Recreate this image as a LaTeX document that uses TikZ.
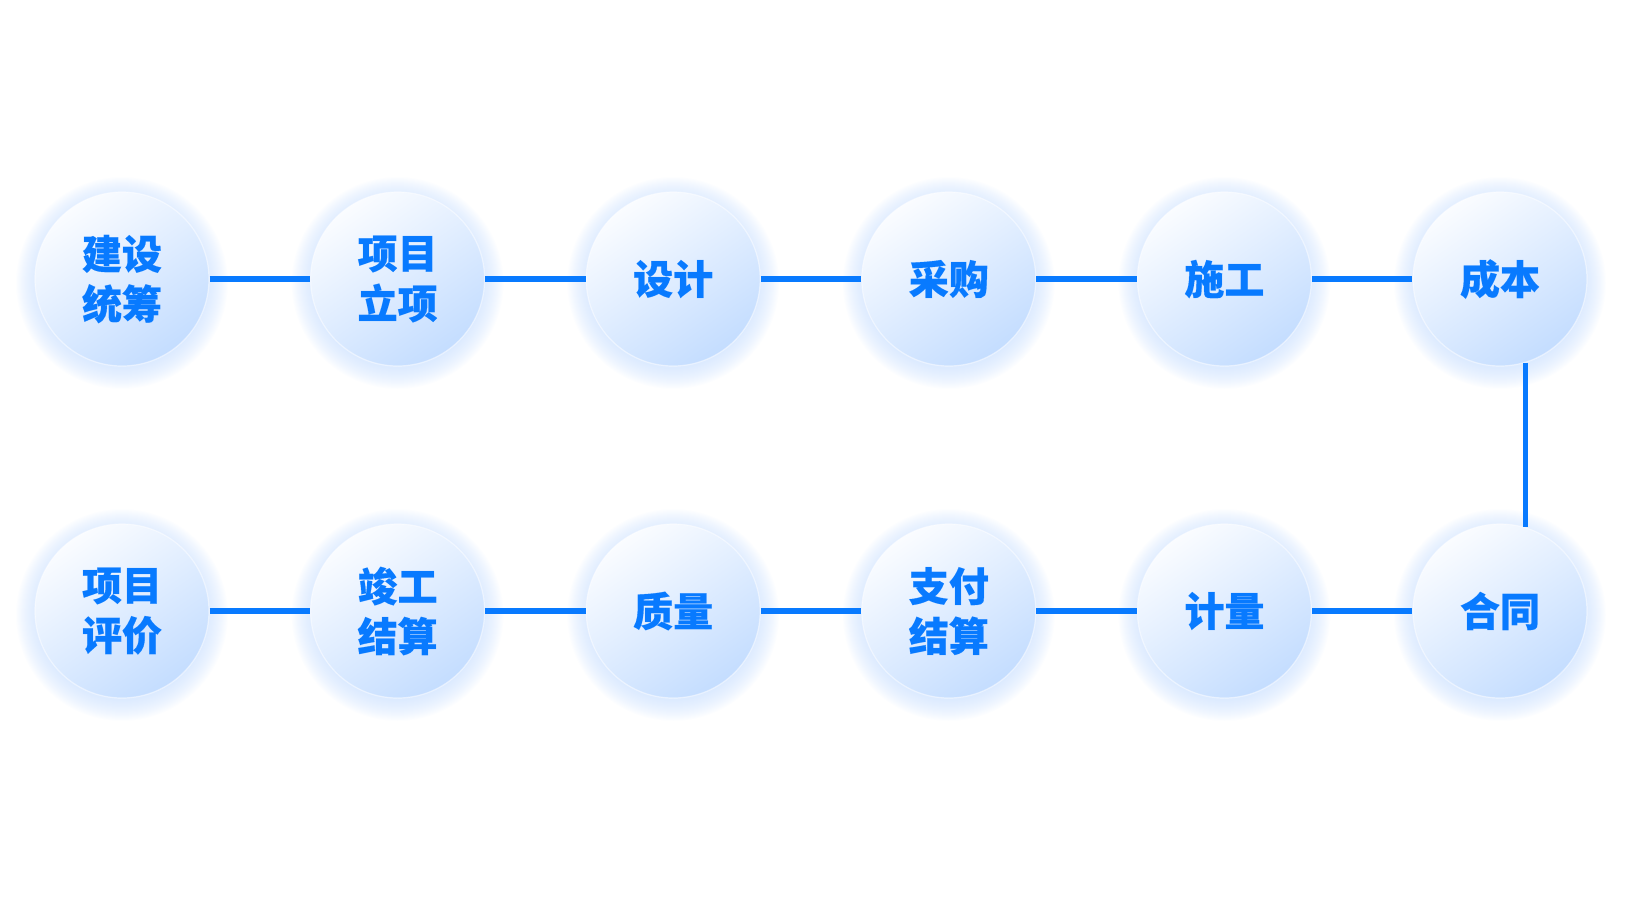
\documentclass[tikz,border=0pt]{standalone}
\usepackage{fontspec}
\newfontfamily\cjk{Noto Sans CJK SC}[BoldFeatures={FakeBold=1.2}]
\usepackage{tikz}
\usetikzlibrary{positioning}

\definecolor{stageblue}{RGB}{8,122,255}
\definecolor{lightface}{RGB}{250,252,255}
\definecolor{darkface}{RGB}{196,221,255}
\definecolor{glowblue}{RGB}{196,220,255}

\tikzset{
  stage/.style={circle, minimum size=174pt, inner sep=0pt, align=center,
    text=stageblue, font=\cjk\bfseries\fontsize{40}{50}\selectfont,
    top color=lightface, bottom color=darkface, shading angle=35,
    draw=white, draw opacity=0.5, line width=1.2pt},
  link/.style={draw=stageblue, line width=5.5pt}
}

\begin{document}
\begin{tikzpicture}[x=1pt,y=1pt,yscale=-1,xscale=1]
\useasboundingbox (0,0) rectangle (1634,900);

% Glow round each circle
\foreach \cx in {122,397.6,673.2,948.8,1224.4,1500}{
  \foreach \cy in {283,615}{
    \foreach \r in {86,87,...,106}{
      \fill [glowblue, opacity=0.04] (\cx,\cy) circle (\r);
    }
  }
}

% Top row
\foreach \nm/\cx/\txt in {jianshe/122/{建设\\统筹}, lixiang/397.6/{项目\\立项},
    sheji/673.2/{设计}, caigou/948.8/{采购}, shigong/1224.4/{施工},
    chengben/1500/{成本}}{
  \node [stage] (\nm) at (\cx,279) {\txt};
}

% Bottom row
\foreach \nm/\cx/\txt in {pingjia/122/{项目\\评价}, jungong/397.6/{竣工\\结算},
    zhiliang/673.2/{质量}, zhifu/948.8/{支付\\结算}, jiliang/1224.4/{计量},
    hetong/1500/{合同}}{
  \node [stage] (\nm) at (\cx,611) {\txt};
}

% Straight Lines
\draw [link] (jianshe.east) -- (lixiang.west);
\draw [link] (lixiang.east) -- (sheji.west);
\draw [link] (sheji.east) -- (caigou.west);
\draw [link] (caigou.east) -- (shigong.west);
\draw [link] (shigong.east) -- (chengben.west);
\draw [link] (chengben.-73.3) -- (hetong.73.3);
\draw [link] (pingjia.east) -- (jungong.west);
\draw [link] (jungong.east) -- (zhiliang.west);
\draw [link] (zhiliang.east) -- (zhifu.west);
\draw [link] (zhifu.east) -- (jiliang.west);
\draw [link] (jiliang.east) -- (hetong.west);
\end{tikzpicture}
\end{document}
